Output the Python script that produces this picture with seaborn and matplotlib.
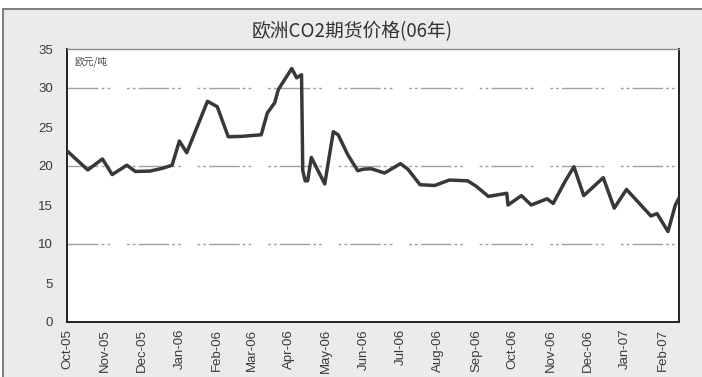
import matplotlib
matplotlib.use("Agg")
import matplotlib.pyplot as plt
from matplotlib.patches import Rectangle
import pandas as pd
import seaborn as sns

# Weekly-ish EU CO2 futures settlement prices (EUR per tonne)
dates = [
    "2005-10-01", "2005-10-02", "2005-10-18", "2005-10-30", "2005-11-07", "2005-11-19",
    "2005-11-26", "2005-12-08", "2005-12-18", "2005-12-26", "2006-01-01", "2006-01-07",
    "2006-01-24", "2006-02-01", "2006-02-10", "2006-02-21", "2006-03-09", "2006-03-14",
    "2006-03-20", "2006-03-23", "2006-04-03", "2006-04-07", "2006-04-11", "2006-04-12",
    "2006-04-14", "2006-04-16", "2006-04-19", "2006-04-30", "2006-05-07", "2006-05-11",
    "2006-05-19", "2006-05-27", "2006-06-01", "2006-06-07", "2006-06-18", "2006-07-01",
    "2006-07-07", "2006-07-17", "2006-07-29", "2006-08-10", "2006-08-25", "2006-09-01",
    "2006-09-11", "2006-09-26", "2006-09-27", "2006-10-08", "2006-10-16", "2006-10-29",
    "2006-11-03", "2006-11-13", "2006-11-20", "2006-11-28", "2006-12-14", "2006-12-23",
    "2007-01-02", "2007-01-22", "2007-01-27", "2007-02-05", "2007-02-11", "2007-02-14",
]
prices = [
    21.9, 21.8, 19.5, 20.9, 18.9, 20.1,
    19.3, 19.35, 19.7, 20.1, 23.2, 21.7,
    28.3, 27.6, 23.75, 23.8, 24.0, 26.8,
    28.1, 29.8, 32.5, 31.3, 31.7, 19.4,
    18.1, 18.1, 21.1, 17.7, 24.4, 24.0,
    21.4, 19.4, 19.6, 19.65, 19.1, 20.3,
    19.6, 17.6, 17.5, 18.2, 18.1, 17.4,
    16.1, 16.5, 15.0, 16.2, 15.0, 15.8,
    15.2, 18.1, 19.9, 16.2, 18.5, 14.6,
    17.0, 13.6, 13.9, 11.6, 15.0, 15.9,
]
month_ticks = [
    "2005-10-01", "2005-11-01", "2005-12-01", "2006-01-01", "2006-02-01", "2006-03-01",
    "2006-04-01", "2006-05-01", "2006-06-01", "2006-07-01", "2006-08-01", "2006-09-01",
    "2006-10-01", "2006-11-01", "2006-12-01", "2007-01-01", "2007-02-01",
]
month_labels = [
    "Oct-05", "Nov-05", "Dec-05", "Jan-06", "Feb-06", "Mar-06", "Apr-06", "May-06",
    "Jun-06", "Jul-06", "Aug-06", "Sep-06", "Oct-06", "Nov-06", "Dec-06", "Jan-07", "Feb-07",
]
y_ticks = [0, 5, 10, 15, 20, 25, 30, 35]
grid_levels = [10, 20, 30]

title = "欧洲CO2期货价格(06年)"
unit = "欧元/吨"

sns.set_style("white")
plt.rcParams["font.family"] = ["Liberation Sans", "Noto Sans CJK SC", "DejaVu Sans"]

df = pd.DataFrame({"date": pd.to_datetime(dates), "price": prices})

fig = plt.figure(figsize=(7.02, 3.77), dpi=100, facecolor="white")
# grey panel behind the chart
fig.patches.append(Rectangle((3 / 702, -0.01), 1.0, 1 - 9 / 377 + 0.01,
                             transform=fig.transFigure, facecolor="#ebebeb",
                             edgecolor="#6a6a6a", linewidth=1.2, zorder=-5))

ax = fig.add_axes([67 / 702, 1 - 322 / 377, (679 - 67) / 702, (322 - 49) / 377])
ax.set_zorder(2)
ax.set_facecolor("white")

# dash-dot style gridlines at every 10
grid_style = (8.0, (2.0, 2.2, 2.0, 2.2, 22.0, 2.2, 2.0, 2.2, 2.0, 12.0))
for lvl in grid_levels:
    ax.axhline(lvl, color="#a0a0a0", linewidth=1.0, linestyle=grid_style, zorder=1)

sns.lineplot(data=df, x="date", y="price", ax=ax, color="#383838",
             linewidth=2.5, zorder=3, estimator=None)

ax.set_ylim(0, 35)
ax.set_yticks(y_ticks)
ax.set_xlim(pd.Timestamp("2005-10-01"), pd.Timestamp("2007-02-14"))
ax.set_xticks(pd.to_datetime(month_ticks))
ax.set_xticklabels(month_labels, rotation=90, ha="center", va="top")
ax.set_xlabel("")
ax.set_ylabel("")
ax.tick_params(axis="both", length=0, labelcolor="#3a3a3a")
ax.tick_params(axis="y", pad=10, labelsize=9.5)
ax.tick_params(axis="x", pad=5, labelsize=9.5)

for side in ["left", "bottom", "right"]:
    ax.spines[side].set_color("#222222")
    ax.spines[side].set_linewidth(1.4)
ax.spines["top"].set_color("#8a8a8a")
ax.spines["top"].set_linewidth(1.0)

ax.text(0.012, 0.955, unit, transform=ax.transAxes, fontsize=7, color="#444444",
        ha="left", va="center", family=["Noto Sans CJK SC", "DejaVu Sans"])

fig.text(352 / 702, 1 - 32 / 377, title, ha="center", va="center", fontsize=13.5,
         color="#333333", family=["Noto Sans CJK SC", "DejaVu Sans"])

fig.savefig("out.png", dpi=100, facecolor=fig.get_facecolor())
